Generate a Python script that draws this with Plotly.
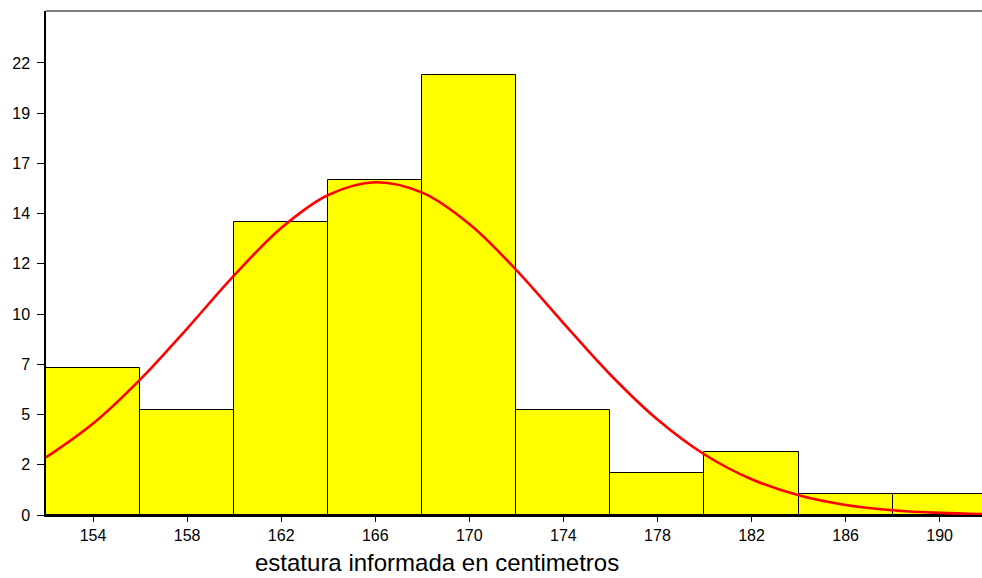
import plotly.graph_objects as go

# Histogram of reported height (cm), bins of width 4 starting at 152
bin_centers = [154, 158, 162, 166, 170, 174, 178, 182, 186, 190]
counts = [7, 5, 14, 16, 21, 5, 2, 3, 1, 1]
bin_width = 4

# Fitted normal curve, sampled every 2 cm
curve_x = [152, 154, 156, 158, 160, 162, 164, 166, 168, 170, 172,
           174, 176, 178, 180, 182, 184, 186, 188, 190, 192]
curve_y = [2.75, 4.37, 6.47, 8.91, 11.45, 13.71, 15.29, 15.9, 15.40, 13.90, 11.70,
           9.17, 6.70, 4.56, 2.89, 1.71, 0.94, 0.48, 0.23, 0.10, 0.04]

# y-axis ticks every 2.4 counts, shown rounded
y_tickvals = [0, 2.4, 4.8, 7.2, 9.6, 12.0, 14.4, 16.8, 19.2, 21.6]
y_ticktext = ["0", "2", "5", "7", "10", "12", "14", "17", "19", "22"]

x_title = "estatura informada en centimetros"

fig = go.Figure()
fig.add_trace(go.Bar(
    x=bin_centers, y=counts, width=[bin_width] * len(counts),
    marker=dict(color="#FFFF00", line=dict(color="#000000", width=1)),
    hoverinfo="x+y",
))
fig.add_trace(go.Scatter(
    x=curve_x, y=curve_y, mode="lines",
    line=dict(color="#FF0000", width=2.6, shape="spline"),
    hoverinfo="skip",
))

fig.update_layout(
    width=982, height=578,
    margin=dict(l=46, r=0, t=11, b=63),
    paper_bgcolor="white", plot_bgcolor="white",
    showlegend=False, bargap=0,
    font=dict(family="Liberation Sans, Arial, sans-serif", color="#000000", size=16),
    xaxis=dict(
        range=[152, 191.8], tickvals=bin_centers,
        ticks="outside", ticklen=5, tickcolor="#000000", tickwidth=1,
        showline=True, linecolor="#000000", linewidth=1.5,
        showgrid=False, zeroline=False,
        tickfont=dict(size=16),
    ),
    yaxis=dict(
        range=[0, 24.08], tickvals=y_tickvals, ticktext=y_ticktext,
        ticks="outside", ticklen=7, tickcolor="#000000", tickwidth=1,
        ticklabelstandoff=4,
        showline=True, linecolor="#000000", linewidth=1.5,
        showgrid=False, zeroline=False,
        tickfont=dict(size=16),
    ),
    shapes=[dict(
        type="line", xref="paper", yref="paper", x0=0, x1=1, y0=1, y1=1,
        line=dict(color="#808080", width=2),
    )],
    annotations=[dict(
        text=x_title, xref="paper", yref="paper",
        x=0.4177, y=-0.0952, xanchor="center", yanchor="middle",
        showarrow=False, font=dict(size=24, color="#000000"),
    )],
)

fig.write_html("out.html")
